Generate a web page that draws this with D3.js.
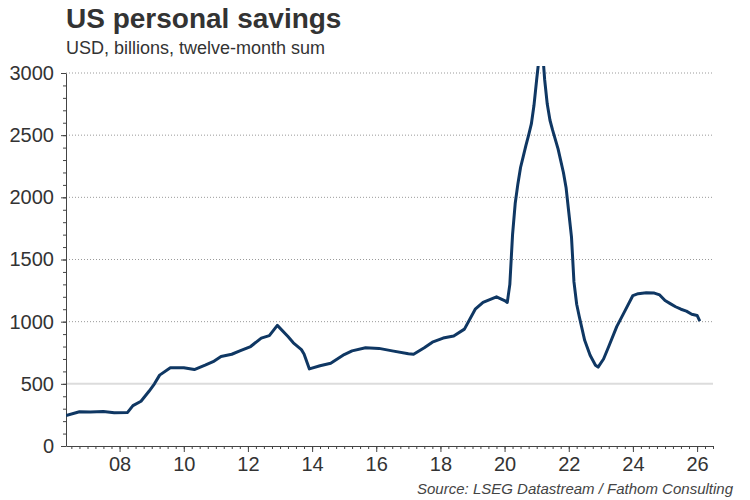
<!DOCTYPE html>
<html>
<head>
<meta charset="utf-8">
<script src="https://cdn.jsdelivr.net/npm/d3@7"></script>
<style>
  body { margin: 0; background: #fff; }
  svg { display: block; font-family: "Liberation Sans", Arial, sans-serif; }
</style>
</head>
<body>
<div id="chart"></div>
<script>
// monthly points (USD bn, 12-month sum)
const months = [
  "2006-05","2006-10","2007-02","2007-07","2007-11","2008-04","2008-06","2008-09","2008-12",
  "2009-02","2009-04","2009-08","2010-01","2010-05","2010-09","2010-12","2011-03","2011-07",
  "2011-10","2012-02","2012-06","2012-09","2012-12","2013-04","2013-06","2013-09","2013-10",
  "2013-12","2014-04","2014-08","2015-01","2015-04","2015-09","2016-02","2016-07","2017-01",
  "2017-03","2017-07","2017-10","2018-02","2018-06","2018-10","2019-02","2019-05","2019-10",
  "2020-01","2020-02","2020-03","2020-04","2020-05","2020-06","2020-07","2020-08","2020-09",
  "2020-10","2020-11","2020-12","2021-01","2021-02","2021-03","2021-04","2021-05","2021-06",
  "2021-07","2021-09","2021-11","2021-12","2022-01","2022-02","2022-03","2022-04","2022-05",
  "2022-07","2022-09","2022-11","2022-12","2023-02","2023-04","2023-07","2023-10","2024-01",
  "2024-03","2024-06","2024-09","2024-11","2025-01","2025-03","2025-05","2025-07","2025-09",
  "2025-11","2026-01","2026-02"
];
const savings = [
  245, 275, 273, 278, 268, 270, 325, 360, 440,
  500, 570, 630, 630, 615, 650, 678, 720, 738,
  765, 800, 868, 888, 970, 880, 830, 775, 740,
  620, 645, 665, 735, 765, 790, 785, 765, 742,
  738, 790, 835, 868, 885, 940, 1100, 1155, 1200,
  1170, 1155, 1300, 1700, 1950, 2110, 2240, 2330, 2420,
  2500, 2590, 2740, 2950, 3150, 3250, 2950, 2750, 2620,
  2540, 2390, 2200, 2080, 1880, 1680, 1320, 1140, 1040,
  850, 730, 650, 635, 700, 800, 960, 1085, 1210,
  1225, 1232, 1230, 1215, 1170, 1145, 1120, 1100, 1085,
  1060, 1050, 1005
];
const yTicks = [0, 500, 1000, 1500, 2000, 2500, 3000];
const xStart = "2006-05-01", xEnd = "2026-07-01";

const W = 750, H = 500;
const m = { left: 66, right: 37, top: 73, bottom: 54 };

const parseMonth = d3.timeParse("%Y-%m");
const parseDay = d3.timeParse("%Y-%m-%d");
const series = months.map((d, i) => ({ date: parseMonth(d), value: savings[i] }));

const svg = d3.select("#chart").append("svg")
  .attr("width", W).attr("height", H);

const x = d3.scaleTime()
  .domain([parseDay(xStart), parseDay(xEnd)])
  .range([m.left, W - m.right]);
const y = d3.scaleLinear()
  .domain([0, 3000])
  .range([H - m.bottom, m.top]);

// title block
svg.append("text")
  .attr("x", 66).attr("y", 28)
  .style("font-size", "28px").style("font-weight", "bold")
  .style("fill", "#333")
  .text("US personal savings");
svg.append("text")
  .attr("x", 66).attr("y", 54)
  .style("font-size", "18px").style("fill", "#333")
  .text("USD, billions, twelve-month sum");

// grid lines
svg.append("g")
  .selectAll("line")
  .data(yTicks.filter(d => d > 0))
  .enter().append("line")
  .attr("x1", m.left).attr("x2", W - m.right)
  .attr("y1", d => y(d)).attr("y2", d => y(d))
  .style("stroke", d => d === 500 ? "#dcdcdc" : "#9a9a9a")
  .style("stroke-width", d => d === 500 ? 2 : 1)
  .style("stroke-dasharray", d => d === 500 ? null : "1,2");

// y axis: minor every 100, labels every 500
const yMinor = svg.append("g")
  .attr("transform", `translate(${m.left},0)`)
  .call(d3.axisLeft(y).ticks(30).tickSize(3).tickFormat(""));
yMinor.select(".domain").remove();
yMinor.selectAll("line").style("stroke", "#444");

const yAxis = svg.append("g")
  .attr("transform", `translate(${m.left},0)`)
  .call(d3.axisLeft(y).tickValues(yTicks).tickFormat(d3.format("d"))
    .tickSize(5).tickPadding(7).tickSizeOuter(0));
yAxis.select(".domain").style("stroke", "#444");
yAxis.selectAll("line").style("stroke", "#444");
yAxis.selectAll("text")
  .style("font-size", "20px").style("fill", "#333")
  .style("font-family", "'Liberation Sans', Arial, sans-serif");

// x axis: quarterly minor ticks, labels every two years
const xMinor = svg.append("g")
  .attr("transform", `translate(0,${H - m.bottom})`)
  .call(d3.axisBottom(x).ticks(d3.timeMonth.every(3)).tickSize(3).tickFormat(""));
xMinor.select(".domain").remove();
xMinor.selectAll("line").style("stroke", "#444");

const xAxis = svg.append("g")
  .attr("transform", `translate(0,${H - m.bottom})`)
  .call(d3.axisBottom(x)
    .ticks(d3.timeYear.filter(d => d.getFullYear() % 2 === 0))
    .tickFormat(d3.timeFormat("%y"))
    .tickSize(6).tickPadding(5).tickSizeOuter(0));
xAxis.select(".domain").style("stroke", "#444");
xAxis.selectAll("line").style("stroke", "#444");
xAxis.selectAll("text")
  .style("font-size", "20px").style("fill", "#333")
  .style("font-family", "'Liberation Sans', Arial, sans-serif");

// clip so the 2021 spike runs off the top
svg.append("clipPath").attr("id", "plot-clip")
  .append("rect")
  .attr("x", m.left).attr("y", m.top - 7)
  .attr("width", W - m.left - m.right).attr("height", H - m.bottom - m.top + 7);

const line = d3.line()
  .x(d => x(d.date))
  .y(d => y(d.value));

svg.append("path")
  .datum(series)
  .attr("clip-path", "url(#plot-clip)")
  .attr("d", line)
  .style("fill", "none")
  .style("stroke", "#0f3763")
  .style("stroke-width", 3)
  .style("stroke-linejoin", "round");

svg.append("text")
  .attr("x", 733).attr("y", 494)
  .attr("text-anchor", "end")
  .style("font-size", "15px").style("font-style", "italic")
  .style("fill", "#444")
  .text("Source: LSEG Datastream / Fathom Consulting");
</script>
</body>
</html>
